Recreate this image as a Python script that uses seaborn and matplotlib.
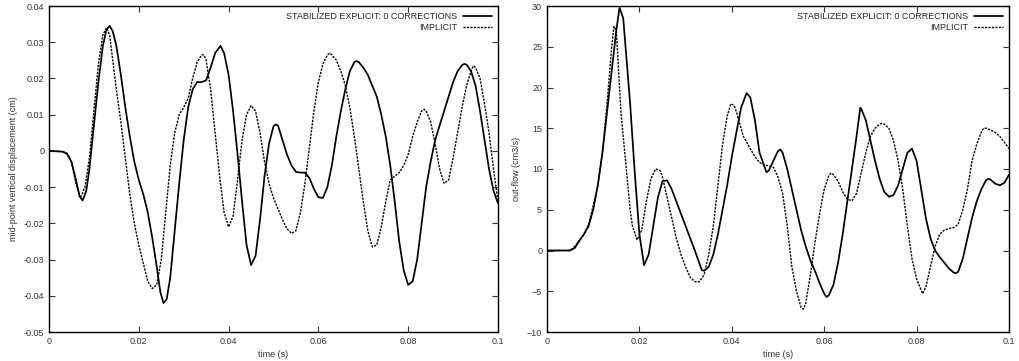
import numpy as np
import pandas as pd
import matplotlib
matplotlib.use("Agg")
import matplotlib.pyplot as plt
import seaborn as sns

# displacement (left panel)
t_exp_d = [0, 0.003, 0.004, 0.005, 0.006, 0.0068, 0.0075, 0.0083, 0.009, 0.010, 0.011, 0.012,
           0.0128, 0.0135, 0.0142, 0.015, 0.016, 0.017, 0.018, 0.019, 0.020, 0.021, 0.022,
           0.023, 0.024, 0.0248, 0.0255, 0.0262, 0.027, 0.028, 0.029, 0.030, 0.031, 0.032,
           0.033, 0.034, 0.035, 0.036, 0.037, 0.0382, 0.039, 0.040, 0.041, 0.042, 0.043,
           0.044, 0.045, 0.046, 0.047, 0.048, 0.049, 0.050, 0.0505, 0.051, 0.052, 0.053,
           0.054, 0.055, 0.056, 0.057, 0.058, 0.059, 0.060, 0.061, 0.062, 0.063, 0.064,
           0.065, 0.066, 0.067, 0.068, 0.0685, 0.069, 0.070, 0.071, 0.072, 0.073, 0.074,
           0.075, 0.076, 0.077, 0.078, 0.079, 0.080, 0.081, 0.082, 0.083, 0.084, 0.085,
           0.086, 0.087, 0.088, 0.089, 0.090, 0.091, 0.092, 0.0925, 0.093, 0.094, 0.095,
           0.096, 0.097, 0.098, 0.099, 0.100]
y_exp_d = [0, -0.0002, -0.0008, -0.003, -0.008, -0.0125, -0.0137, -0.011, -0.005, 0.007, 0.019, 0.029,
           0.0335, 0.0345, 0.033, 0.029, 0.021, 0.012, 0.004, -0.003, -0.008, -0.012, -0.017,
           -0.024, -0.032, -0.039, -0.042, -0.041, -0.035, -0.022, -0.009, 0.003, 0.012, 0.017,
           0.019, 0.019, 0.0195, 0.023, 0.027, 0.029, 0.027, 0.021, 0.011, -0.001, -0.014,
           -0.026, -0.0315, -0.029, -0.019, -0.007, 0.002, 0.0068, 0.0073, 0.007, 0.003, -0.001,
           -0.004, -0.0058, -0.006, -0.006, -0.0075, -0.0105, -0.0128, -0.013, -0.010, -0.004, 0.004,
           0.011, 0.017, 0.022, 0.0245, 0.0248, 0.0245, 0.023, 0.021, 0.018, 0.015, 0.010,
           0.004, -0.004, -0.014, -0.025, -0.033, -0.037, -0.036, -0.030, -0.020, -0.010, -0.003,
           0.003, 0.007, 0.011, 0.015, 0.019, 0.022, 0.0237, 0.024, 0.0238, 0.022, 0.018,
           0.011, 0.003, -0.005, -0.011, -0.0145]

t_imp_d = [0, 0.003, 0.004, 0.005, 0.006, 0.007, 0.008, 0.009, 0.010, 0.011, 0.012, 0.0128,
           0.0135, 0.014, 0.015, 0.016, 0.017, 0.018, 0.019, 0.020, 0.021, 0.022, 0.023,
           0.024, 0.025, 0.026, 0.027, 0.028, 0.029, 0.030, 0.031, 0.032, 0.033, 0.034,
           0.0345, 0.035, 0.036, 0.037, 0.038, 0.039, 0.040, 0.041, 0.042, 0.043, 0.044,
           0.045, 0.046, 0.047, 0.048, 0.049, 0.050, 0.051, 0.052, 0.053, 0.054, 0.055,
           0.056, 0.057, 0.058, 0.059, 0.060, 0.061, 0.062, 0.0625, 0.063, 0.064, 0.065,
           0.066, 0.067, 0.068, 0.069, 0.070, 0.071, 0.072, 0.073, 0.074, 0.075, 0.076,
           0.077, 0.078, 0.079, 0.080, 0.081, 0.082, 0.083, 0.0835, 0.084, 0.085, 0.086,
           0.087, 0.088, 0.089, 0.090, 0.091, 0.092, 0.093, 0.094, 0.0945, 0.095, 0.096,
           0.097, 0.098, 0.099, 0.100]
y_imp_d = [0, -0.0002, -0.0006, -0.003, -0.009, -0.013, -0.010, -0.002, 0.011, 0.024, 0.032, 0.034,
           0.032, 0.027, 0.017, 0.008, -0.002, -0.012, -0.020, -0.026, -0.031, -0.036, -0.038,
           -0.037, -0.030, -0.017, -0.004, 0.005, 0.010, 0.012, 0.0145, 0.020, 0.0245, 0.0265,
           0.0265, 0.025, 0.017, 0.005, -0.007, -0.017, -0.021, -0.018, -0.008, 0.003, 0.010,
           0.0125, 0.011, 0.005, -0.003, -0.009, -0.013, -0.016, -0.019, -0.0215, -0.0228, -0.022,
           -0.017, -0.009, 0.001, 0.011, 0.019, 0.024, 0.0265, 0.027, 0.0265, 0.025, 0.022,
           0.018, 0.012, 0.004, -0.005, -0.014, -0.022, -0.0265, -0.026, -0.021, -0.014, -0.008,
           -0.007, -0.006, -0.004, -0.001, 0.004, 0.008, 0.011, 0.0115, 0.011, 0.008, 0.002,
           -0.005, -0.009, -0.008, -0.002, 0.005, 0.012, 0.018, 0.022, 0.0235, 0.023, 0.020,
           0.013, 0.005, -0.005, -0.014]

# out-flow (right panel)
t_exp_q = [0, 0.005, 0.006, 0.007, 0.008, 0.009, 0.010, 0.011, 0.012, 0.013, 0.014, 0.015,
           0.0157, 0.0165, 0.017, 0.018, 0.019, 0.020, 0.021, 0.022, 0.023, 0.024, 0.025,
           0.026, 0.027, 0.028, 0.029, 0.030, 0.031, 0.032, 0.033, 0.0335, 0.034, 0.035,
           0.036, 0.037, 0.038, 0.039, 0.040, 0.041, 0.042, 0.0432, 0.044, 0.045, 0.046,
           0.0475, 0.048, 0.049, 0.050, 0.0505, 0.051, 0.052, 0.053, 0.054, 0.055, 0.056,
           0.057, 0.058, 0.059, 0.060, 0.0605, 0.061, 0.062, 0.063, 0.064, 0.065, 0.066,
           0.067, 0.0678, 0.068, 0.069, 0.070, 0.071, 0.072, 0.073, 0.074, 0.075, 0.076,
           0.077, 0.078, 0.079, 0.080, 0.081, 0.082, 0.083, 0.084, 0.085, 0.086, 0.087,
           0.088, 0.0885, 0.089, 0.090, 0.091, 0.092, 0.093, 0.094, 0.095, 0.0955, 0.096,
           0.097, 0.098, 0.099, 0.100]
y_exp_q = [0, 0, 0.3, 1.2, 2.0, 3.0, 5.0, 8.0, 12.0, 17.0, 22.0, 27.0,
           29.8, 28.5, 25.0, 18.0, 9.5, 2.0, -1.8, -0.5, 3.0, 6.5, 8.5,
           8.6, 7.5, 6.0, 4.5, 3.0, 1.5, 0, -1.6, -2.4, -2.5, -2.0,
           -0.5, 2.0, 5.0, 8.0, 11.5, 14.5, 17.5, 19.3, 18.8, 16.0, 12.0,
           9.6, 9.8, 11.0, 12.2, 12.4, 12.0, 10.0, 7.5, 5.0, 2.5, 0.5,
           -1.2, -2.5, -4.0, -5.3, -5.7, -5.5, -4.2, -1.5, 2.0, 6.0, 10.0,
           14.0, 17.5, 17.4, 16.0, 13.5, 11.0, 8.8, 7.2, 6.6, 6.8, 8.0,
           10.0, 12.0, 12.5, 11.0, 7.5, 4.0, 1.5, 0, -0.8, -1.5, -2.2,
           -2.7, -2.8, -2.6, -1.0, 1.5, 4.0, 6.0, 7.5, 8.6, 8.8, 8.7,
           8.2, 8.0, 8.3, 9.3]

t_imp_q = [0, 0.005, 0.006, 0.007, 0.008, 0.009, 0.010, 0.011, 0.012, 0.013, 0.014, 0.0145,
           0.015, 0.0155, 0.016, 0.017, 0.018, 0.0185, 0.0195, 0.0205, 0.0215, 0.0225, 0.0235,
           0.0245, 0.025, 0.026, 0.027, 0.028, 0.029, 0.030, 0.031, 0.032, 0.0325, 0.033,
           0.034, 0.035, 0.036, 0.037, 0.038, 0.039, 0.0398, 0.0405, 0.041, 0.042, 0.0425,
           0.043, 0.044, 0.045, 0.046, 0.047, 0.048, 0.049, 0.050, 0.051, 0.052, 0.053,
           0.054, 0.055, 0.0555, 0.056, 0.057, 0.058, 0.059, 0.060, 0.061, 0.0615, 0.062,
           0.063, 0.064, 0.065, 0.066, 0.067, 0.068, 0.069, 0.070, 0.071, 0.072, 0.0725,
           0.073, 0.074, 0.075, 0.076, 0.077, 0.078, 0.079, 0.080, 0.0813, 0.082, 0.083,
           0.084, 0.085, 0.086, 0.087, 0.088, 0.089, 0.090, 0.091, 0.092, 0.093, 0.094,
           0.0945, 0.095, 0.096, 0.097, 0.098, 0.099, 0.100]
y_imp_q = [0, 0, 0.5, 1.2, 2.0, 3.2, 5.5, 8.0, 12.0, 18.0, 25.0, 27.5,
           27.0, 22.0, 17.0, 11.0, 5.0, 3.0, 1.3, 2.5, 6.0, 8.8, 10.0,
           9.8, 9.0, 6.5, 4.0, 1.5, -0.5, -2.0, -3.3, -3.8, -3.9, -3.8,
           -3.0, -0.5, 3.0, 8.0, 13.0, 16.5, 18.0, 17.8, 17.0, 15.0, 14.0,
           13.5, 12.5, 11.5, 10.8, 10.5, 10.4, 10.2, 9.0, 7.0, 3.0, -2.0,
           -5.0, -7.0, -7.2, -6.5, -3.0, 1.0, 4.5, 7.5, 9.2, 9.5, 9.3,
           8.5, 7.2, 6.3, 6.1, 7.0, 9.5, 12.0, 14.0, 15.0, 15.5, 15.6,
           15.5, 15.0, 13.5, 11.0, 7.5, 3.0, -1.0, -3.5, -5.3, -4.5, -2.0,
           0.5, 2.0, 2.5, 2.7, 2.8, 3.2, 5.0, 7.5, 11.0, 13.0, 14.5,
           15.0, 15.0, 14.8, 14.5, 14.0, 13.3, 12.5]

lbl_exp = "STABILIZED EXPLICIT: 0 CORRECTIONS"
lbl_imp = "IMPLICIT"

sns.set_style("ticks")
plt.rcParams['font.family'] = ['Liberation Sans', 'DejaVu Sans']
plt.rcParams['font.size'] = 6.5

fig = plt.figure(figsize=(10.2, 3.61), dpi=100)
ax1 = fig.add_axes([49/1020, 1 - 332/361, 449/1020, 326/361])
ax2 = fig.add_axes([547/1020, 1 - 332/361, 462/1020, 326/361])


def draw(ax, te, ye, ti, yi):
    de = pd.DataFrame({"t": te, "v": ye})
    di = pd.DataFrame({"t": ti, "v": yi})
    sns.lineplot(data=de, x="t", y="v", ax=ax, color="black", lw=1.25, label=lbl_exp)
    sns.lineplot(data=di, x="t", y="v", ax=ax, color="black", lw=1.0,
                 label=lbl_imp, linestyle="--")
    ax.lines[-1].set_dashes((1.6, 0.9))
    ax.set_xlim(0, 0.1)
    ax.set_xticks([0, 0.02, 0.04, 0.06, 0.08, 0.1])
    ax.set_xticklabels(["0", "0.02", "0.04", "0.06", "0.08", "0.1"])
    ax.tick_params(direction="in", top=True, right=True, length=4, width=0.8,
                   labelsize=6.5, colors="#333333", labelcolor="#333333")
    for s in ax.spines.values():
        s.set_linewidth(1.0)
        s.set_color("black")
    ax.set_xlabel("time (s)", fontsize=6.5, color="#333333", labelpad=3)
    leg = ax.legend(loc="upper right", frameon=False, markerfirst=False,
                    fontsize=6.5, handlelength=3.2, handletextpad=0.6,
                    borderaxespad=0.3, labelspacing=0.15)
    leg.get_lines()[1].set_dashes((1.6, 0.9))
    leg._legend_box.align = "right"


draw(ax1, t_exp_d, y_exp_d, t_imp_d, y_imp_d)
ax1.set_ylim(-0.05, 0.04)
yt = [-0.05, -0.04, -0.03, -0.02, -0.01, 0, 0.01, 0.02, 0.03, 0.04]
ax1.set_yticks(yt)
ax1.set_yticklabels(["%g" % v for v in yt])
ax1.set_ylabel("mid-point vertical displacement (cm)", fontsize=6.5, color="#333333", labelpad=4)

draw(ax2, t_exp_q, y_exp_q, t_imp_q, y_imp_q)
ax2.set_ylim(-10, 30)
ax2.set_yticks(range(-10, 31, 5))
ax2.set_ylabel("out-flow (cm3/s)", fontsize=6.5, color="#333333", labelpad=4)

fig.savefig("out.png", dpi=100)
